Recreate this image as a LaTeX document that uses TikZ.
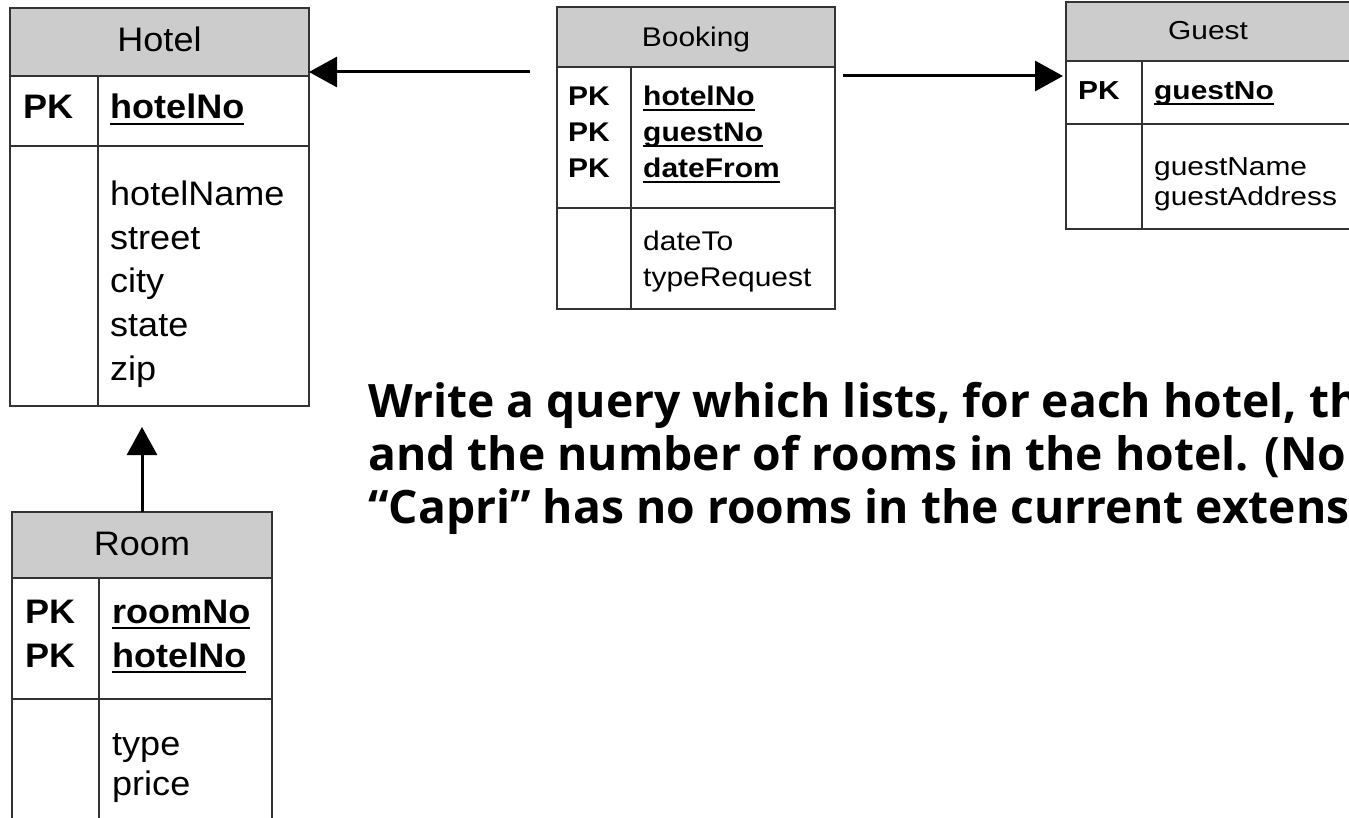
\documentclass[tikz,border=0pt]{standalone}
\usepackage{fontspec}
\usepackage{graphicx}
\setmainfont{Liberation Sans}
\newfontfamily\qfont{Open Sans}
\usetikzlibrary{arrows.meta}
\newcommand\pkul[1]{\setbox0\hbox{#1}\rlap{\rule[-0.19em]{\wd0}{0.065em}}\box0}
\newcommand\tH[1]{\scalebox{1.06}[1]{\fontsize{34}{40}\selectfont #1}}
\newcommand\tB[1]{\scalebox{1.11}[1]{\fontsize{27}{32}\selectfont #1}}
\newcommand\tG[1]{\scalebox{1.15}[1]{\fontsize{26}{31}\selectfont #1}}
\newcommand\qf{\qfont\bfseries\fontsize{46}{53}\selectfont}
\newsavebox\qbox
\begin{document}
\sbox\qbox{\qf Write a query which lists, for each hotel,}%
\pgfmathsetmacro\qsx{929/\wd\qbox}%
\begin{tikzpicture}[x=1pt,y=-1pt,
  tline/.style={draw=black!80,line width=1.5pt},
  tbox/.style={draw=black!80,line width=1.5pt,inner sep=0pt,outer sep=0pt,anchor=north west},
  hdr/.style={fill=black!20},
  txt/.style={anchor=base west,inner sep=0pt},
  ttl/.style={anchor=base,inner sep=0pt},
  arr/.style={line width=3pt,-{Triangle[length=28pt,width=30pt]}},
  q/.style={anchor=base west,inner sep=0pt}]
\useasboundingbox (0,0) rectangle (1349,818);
\clip (0,0) rectangle (1349,818);
\fill[white] (0,0) rectangle (1349,818);
% ---------- Hotel ----------
\fill[hdr] (10,8) rectangle (309,76);
\node[tbox,minimum width=299pt,minimum height=398pt] (hotel) at (10,8) {};
\draw[tline] (10,76) -- (309,76) (10,146) -- (309,146) (98,76) -- (98,406);
\node[ttl] (hotelT) at (159.5,52) {\tH{Hotel}};
\node[txt] (hotelPK) at (23,119) {\tH{\bfseries PK}};
\node[txt] (hotelK) at (110,119) {\tH{\bfseries\pkul{hotelNo}}};
\foreach \t [count=\i from 0] in {hotelName,street,city,state,zip}
  \node[txt] (hotelF\i) at (110,{206+43.5*\i}) {\tH{\t}};
% ---------- Booking ----------
\fill[hdr] (557,7) rectangle (835,67);
\node[tbox,minimum width=278pt,minimum height=302pt] (booking) at (557,7) {};
\draw[tline] (557,67) -- (835,67) (557,208) -- (835,208) (631,67) -- (631,309);
\node[ttl] (bookingT) at (696,47) {\tB{Booking}};
\foreach \k [count=\i from 0] in {hotelNo,guestNo,dateFrom}{
  \node[txt] (bookingPK\i) at (568,{106+36*\i}) {\tB{\bfseries PK}};
  \node[txt] (bookingK\i) at (643,{106+36*\i}) {\tB{\bfseries\pkul{\k}}};
}
\foreach \t [count=\i from 0] in {dateTo,typeRequest}
  \node[txt] (bookingF\i) at (643,{251+36*\i}) {\tB{\t}};
% ---------- Guest ----------
\fill[hdr] (1066,2) rectangle (1400,61);
\node[tbox,minimum width=334pt,minimum height=227pt] (guest) at (1066,2) {};
\draw[tline] (1066,61) -- (1400,61) (1066,124) -- (1400,124) (1142,61) -- (1142,229);
\node[ttl] (guestT) at (1208,40) {\tG{Guest}};
\node[txt] (guestPK) at (1078,100) {\tG{\bfseries PK}};
\node[txt] (guestK) at (1154,100) {\tG{\bfseries\pkul{guestNo}}};
\foreach \t [count=\i from 0] in {guestName,guestAddress}
  \node[txt] (guestF\i) at (1154,{176+30*\i}) {\tG{\t}};
% ---------- Room ----------
\fill[hdr] (12,512) rectangle (272,578);
\node[tbox,minimum width=260pt,minimum height=340pt] (room) at (12,512) {};
\draw[tline] (12,578) -- (272,578) (12,699) -- (272,699) (99,578) -- (99,852);
\node[ttl] (roomT) at (142,555) {\tH{Room}};
\foreach \k [count=\i from 0] in {roomNo,hotelNo}{
  \node[txt] (roomPK\i) at (25,{623+44*\i}) {\tH{\bfseries PK}};
  \node[txt] (roomK\i) at (112,{623+44*\i}) {\tH{\bfseries\pkul{\k}}};
}
\foreach \t [count=\i from 0] in {type,price}
  \node[txt] (roomF\i) at (112,{755+40*\i}) {\tH{\t}};
% ---------- connectors ----------
\coordinate (bkA) at (530,72);
\coordinate (bkB) at (843,76);
\coordinate (rmA) at (142,427);
\draw[arr] (bkA) -- (bkA -| hotel.east);
\draw[arr] (bkB) -- ([xshift=-3pt]bkB -| guest.west);
\draw[arr] (room.north -| rmA) -- (rmA);
% ---------- question ----------
\node[q] (q1) at (368,417) {\scalebox{\qsx}[1]{\qf Write a query which lists, for each hotel, th}};
\node[q] (q2) at (368,470) {\scalebox{\qsx}[1]{\qf and the number of rooms in the hotel. (No}};
\node[q] (q3) at (368,523) {\scalebox{\qsx}[1]{\qf “Capri” has no rooms in the current extens}};
\end{tikzpicture}
\end{document}
